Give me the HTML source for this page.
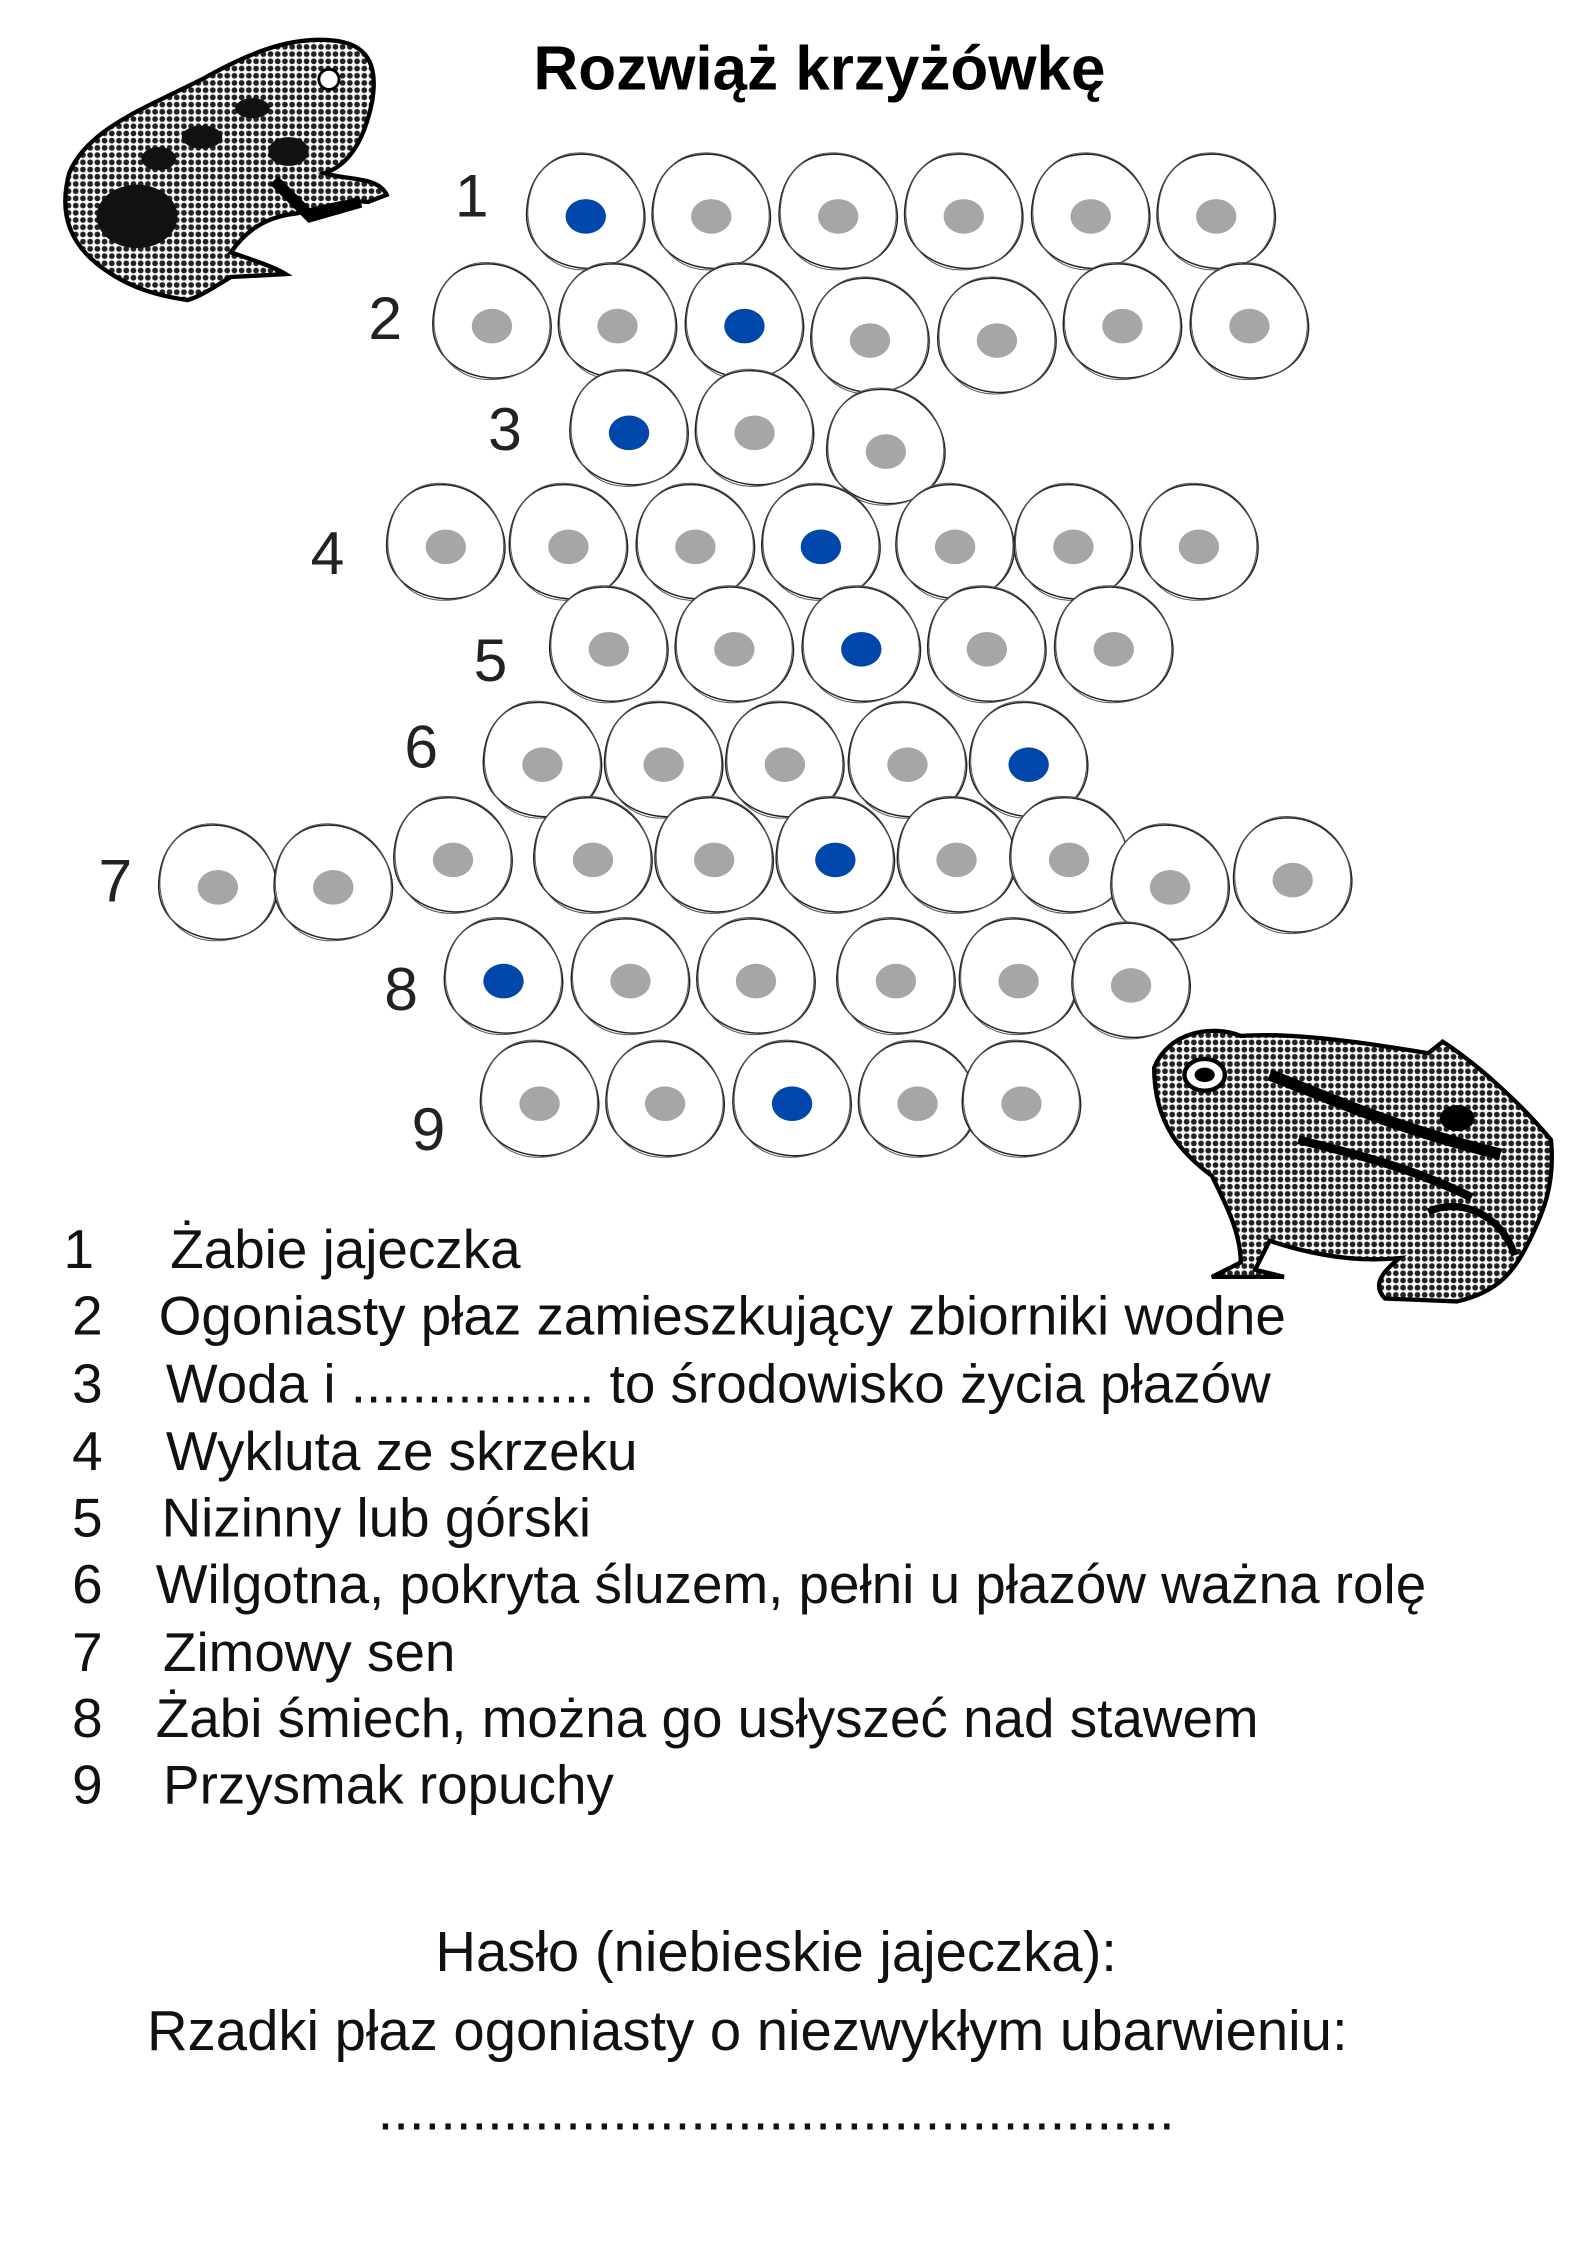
<!DOCTYPE html>
<html><head><meta charset="utf-8"><style>
html,body{margin:0;padding:0;background:#fff}
svg{display:block}
text{font-family:"Liberation Sans",sans-serif}
</style></head><body>
<svg width="1587" height="2245" viewBox="0 0 1100 1556" preserveAspectRatio="none" xmlns="http://www.w3.org/2000/svg">
<defs>
<g id="e">
<path d="M-6,-40 C20,-42 40,-20 41,2 C42,24 24,40 0,39 C-22,38 -42,24 -41,0 C-40,-22 -28,-39 -6,-40Z" fill="#fff" stroke="#222" stroke-width="1"/>
<path d="M-2,-41 C24,-40 42,-18 40,6 C38,28 20,41 -4,40 C-26,39 -42,20 -40,-4 C-38,-26 -24,-42 -2,-41Z" fill="none" stroke="#555" stroke-width="0.7"/>
</g>
<g id="g"><use href="#e"/><ellipse cx="0" cy="3" rx="14" ry="12" fill="#a6a6a6"/></g>
<g id="b"><use href="#e"/><ellipse cx="0" cy="3" rx="14" ry="12" fill="#0047ab"/></g>
<pattern id="sp" width="5" height="5" patternUnits="userSpaceOnUse"><rect width="5" height="5" fill="#fff"/><circle cx="2.5" cy="2.5" r="2" fill="#222"/></pattern>
</defs>

<text x="568" y="62" font-size="43" font-weight="bold" text-anchor="middle">Rozwiąż krzyżówkę</text>

<g>
<path d="M48,120 C60,90 100,75 140,55 C170,38 200,25 230,28 C255,30 262,45 258,70 C252,100 240,115 225,120 C240,125 262,122 268,135 L255,140 C240,138 220,145 205,148 C185,150 170,160 160,175 C175,180 190,185 198,190 L160,192 C150,198 140,205 130,208 C110,205 90,200 70,185 C50,170 40,150 48,120Z" fill="url(#sp)" stroke="#000" stroke-width="3"/>
<ellipse cx="95" cy="150" rx="28" ry="22" fill="#111"/>
<ellipse cx="140" cy="95" rx="14" ry="8" fill="#111"/>
<ellipse cx="175" cy="75" rx="12" ry="7" fill="#111"/>
<ellipse cx="110" cy="110" rx="12" ry="8" fill="#111"/>
<ellipse cx="200" cy="105" rx="14" ry="10" fill="#111"/>
<circle cx="228" cy="55" r="7" fill="#fff" stroke="#000" stroke-width="2"/>
<path d="M190,125 L215,150 L250,140" fill="none" stroke="#000" stroke-width="8"/>
</g>

<g>
<path d="M800,740 C810,715 840,710 860,718 C900,715 960,725 990,730 L1000,722 C1020,735 1050,760 1075,790 C1078,820 1070,840 1060,860 C1050,880 1040,895 1010,902 L960,900 C950,890 960,880 970,872 C940,875 910,870 880,860 L870,880 L890,885 L840,885 L860,875 C860,855 850,835 840,815 C820,800 800,780 800,740Z" fill="url(#sp)" stroke="#000" stroke-width="3"/>
<ellipse cx="835" cy="745" rx="14" ry="11" fill="#fff" stroke="#000" stroke-width="3"/>
<ellipse cx="835" cy="745" rx="7" ry="5" fill="#000"/>
<path d="M880,745 C920,760 960,780 1040,800" stroke="#000" stroke-width="8" fill="none"/>
<path d="M900,790 C940,800 980,810 1020,830" stroke="#000" stroke-width="6" fill="none"/>
<ellipse cx="1010" cy="775" rx="12" ry="9" fill="#000"/>
<path d="M990,840 C1010,830 1040,840 1050,870" stroke="#000" stroke-width="5" fill="none"/>
</g>

<g font-size="42" fill="#222" text-anchor="middle">
<text x="327" y="150">1</text>
<text x="267" y="235">2</text>
<text x="350" y="312">3</text>
<text x="227" y="398">4</text>
<text x="340" y="472">5</text>
<text x="292" y="532">6</text>
<text x="80" y="625">7</text>
<text x="278" y="700">8</text>
<text x="297" y="797">9</text>
</g>

<use href="#b" x="406" y="147"/><use href="#g" x="493" y="147"/><use href="#g" x="581" y="147"/><use href="#g" x="668" y="147"/><use href="#g" x="756" y="147"/><use href="#g" x="843" y="147"/>
<use href="#g" x="341" y="223"/><use href="#g" x="428" y="223"/><use href="#b" x="516" y="223"/><use href="#g" x="603" y="233"/><use href="#g" x="691" y="233"/><use href="#g" x="778" y="223"/><use href="#g" x="866" y="223"/>
<use href="#b" x="436" y="297"/><use href="#g" x="523" y="297"/><use href="#g" x="614" y="310"/>
<use href="#g" x="309" y="376"/><use href="#g" x="394" y="376"/><use href="#g" x="482" y="376"/><use href="#b" x="569" y="376"/><use href="#g" x="662" y="376"/><use href="#g" x="744" y="376"/><use href="#g" x="831" y="376"/>
<use href="#g" x="422" y="447"/><use href="#g" x="509" y="447"/><use href="#b" x="597" y="447"/><use href="#g" x="684" y="447"/><use href="#g" x="772" y="447"/>
<use href="#g" x="376" y="527"/><use href="#g" x="460" y="527"/><use href="#g" x="544" y="527"/><use href="#g" x="629" y="527"/><use href="#b" x="713" y="527"/>
<use href="#g" x="151" y="612"/><use href="#g" x="231" y="612"/><use href="#g" x="314" y="593"/><use href="#g" x="411" y="593"/><use href="#g" x="495" y="593"/><use href="#b" x="579" y="593"/><use href="#g" x="663" y="593"/><use href="#g" x="741" y="593"/><use href="#g" x="811" y="612"/><use href="#g" x="896" y="607"/>
<use href="#b" x="349" y="677"/><use href="#g" x="437" y="677"/><use href="#g" x="524" y="677"/><use href="#g" x="621" y="677"/><use href="#g" x="706" y="677"/><use href="#g" x="784" y="680"/>
<use href="#g" x="374" y="762"/><use href="#g" x="461" y="762"/><use href="#b" x="549" y="762"/><use href="#g" x="636" y="762"/><use href="#g" x="708" y="762"/>

<g font-size="38" fill="#111">
<text x="44" y="879">1</text><text x="118" y="879">Żabie jajeczka</text>
<text x="50" y="925">2</text><text x="110" y="925">Ogoniasty płaz zamieszkujący zbiorniki wodne</text>
<text x="50" y="972">3</text><text x="115" y="972">Woda i  ................ to środowisko życia płazów</text>
<text x="50" y="1019">4</text><text x="115" y="1019">Wykluta ze skrzeku</text>
<text x="50" y="1065">5</text><text x="112" y="1065">Nizinny lub górski</text>
<text x="50" y="1111">6</text><text x="108" y="1111">Wilgotna, pokryta śluzem, pełni u płazów  ważna rolę</text>
<text x="50" y="1158">7</text><text x="113" y="1158">Zimowy sen</text>
<text x="50" y="1204">8</text><text x="108" y="1204">Żabi śmiech, można go usłyszeć nad stawem</text>
<text x="50" y="1250">9</text><text x="113" y="1250">Przysmak ropuchy</text>
</g>
<g font-size="39" fill="#111" text-anchor="middle">
<text x="538" y="1366">Hasło (niebieskie jajeczka):</text>
<text x="518" y="1421">Rzadki płaz ogoniasty o niezwykłym ubarwieniu:</text>
<text x="538" y="1476">...................................................</text>
</g>
</svg>
</body></html>
